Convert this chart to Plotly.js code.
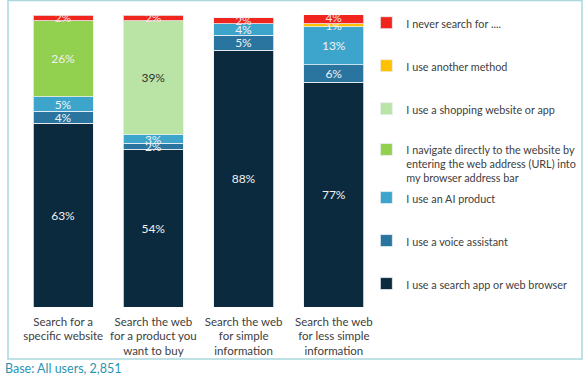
<!DOCTYPE html>
<html>
<head>
<meta charset="utf-8">
<script src="https://cdn.plot.ly/plotly-3.0.1.min.js"></script>
<style>
html,body{margin:0;padding:0;background:#fff;}
#chart{width:587px;height:378px;}
</style>
</head>
<body>
<div id="chart"></div>
<script>
// Categories (x axis)
const categories = [
  "Search for a<br>specific website",
  "Search the web<br>for a product you<br>want to buy",
  "Search the web<br>for simple<br>information",
  "Search the web<br>for less simple<br>information"
];

// Series values (percent), stacked bottom to top
const searchApp   = [63, 54, 88, 77];
const voice       = [4, 2, 5, 6];
const aiProduct   = [5, 3, 4, 13];
const navigate    = [26, null, null, null];
const shopping    = [null, 39, null, null];
const another     = [null, null, null, 1];
const neverSearch = [2, 2, 2, 4];

const seriesNames = [
  "I use a search app or web browser",
  "I use a voice assistant",
  "I use an AI product",
  "I navigate directly to the website by<br>entering the web address (URL) into<br>my browser address bar",
  "I use a shopping website or app",
  "I use another method",
  "I never search for ...."
];
const seriesValues = [searchApp, voice, aiProduct, navigate, shopping, another, neverSearch];
const seriesColors = ["#0C2A3D", "#2A75A0", "#3DA5CB", "#92D050", "#B9E4A5", "#FFC000", "#F0261E"];
const textColors   = ["#F2F2F2", "#F2F2F2", "#F2F2F2", "#F2F2F2", "#333333", "#F2F2F2", "#F8E0E0"];
// which legend box each series is listed in (for the uneven legend spacing)
const legendBox    = ["legend3", "legend3", "legend3", "legend2", "legend", "legend", "legend"];

const xs = [0, 1, 2, 3];

const traces = seriesValues.map((vals, i) => ({
  type: "bar",
  name: seriesNames[i],
  legend: legendBox[i],
  legendgroup: "g" + i,
  legendrank: seriesValues.length - i,
  x: xs,
  y: vals,
  text: vals.map(v => (v === null || v === undefined) ? "" : v + "%"),
  textposition: "inside",
  insidetextanchor: "middle",
  textangle: 0,
  constraintext: "none",
  textfont: {family: "Lato, 'Open Sans', sans-serif", size: 12, color: textColors[i]},
  hoverinfo: "skip",
  marker: {color: seriesColors[i], line: {color: "rgba(235,240,245,0.8)", width: 1}}
}));

const legendFont = {family: "Lato, 'Open Sans', sans-serif", size: 10.8, color: "#404040"};
function legendAt(y) {
  return {
    traceorder: "grouped",
    tracegroupgap: 24,
    x: 0.965, xanchor: "left",
    y: y, yanchor: "top",
    valign: "top",
    maxheight: 370,
    font: legendFont,
    itemwidth: 30,
    bgcolor: "rgba(0,0,0,0)"
  };
}

const layout = {
  width: 587,
  height: 378,
  barmode: "stack",
  bargap: 0.335,
  margin: {l: 18, r: 208, t: 15, b: 71, autoexpand: false},
  paper_bgcolor: "#ffffff",
  plot_bgcolor: "#ffffff",
  font: {family: "Lato, 'Open Sans', sans-serif", color: "#404040", size: 11},
  uniformtext: {minsize: 12, mode: "show"},
  showlegend: true,
  legend: legendAt(1.02),
  legend2: legendAt(0.586),
  legend3: legendAt(0.421),
  xaxis: {
    range: [-0.5, 3.5],
    tickmode: "array",
    tickvals: xs,
    ticktext: categories,
    tickangle: 0,
    ticklabelstandoff: 6,
    automargin: false,
    showgrid: false,
    zeroline: false,
    showline: false,
    ticks: "",
    fixedrange: true,
    tickfont: {family: "Lato, 'Open Sans', sans-serif", size: 11.5, color: "#404040"}
  },
  yaxis: {
    range: [0, 100],
    showgrid: false,
    zeroline: false,
    showline: false,
    showticklabels: false,
    ticks: "",
    automargin: false,
    fixedrange: true
  },
  shapes: [{
    type: "rect", xref: "paper", yref: "paper",
    x0: -0.0277, x1: 1.5623, y0: -0.178, y1: 1.0497,
    line: {color: "#A8D8DC", width: 1.5},
    fillcolor: "rgba(0,0,0,0)",
    layer: "below"
  }],
  annotations: [{
    xref: "paper", yref: "paper",
    x: -0.042, y: -0.212,
    xanchor: "left", yanchor: "middle",
    showarrow: false,
    text: "Base: All users, 2,851",
    font: {family: "Lato, 'Open Sans', sans-serif", size: 12.5, color: "#2B95B0"}
  }]
};

Plotly.newPlot("chart", traces, layout, {displayModeBar: false, staticPlot: true});
</script>
</body>
</html>
